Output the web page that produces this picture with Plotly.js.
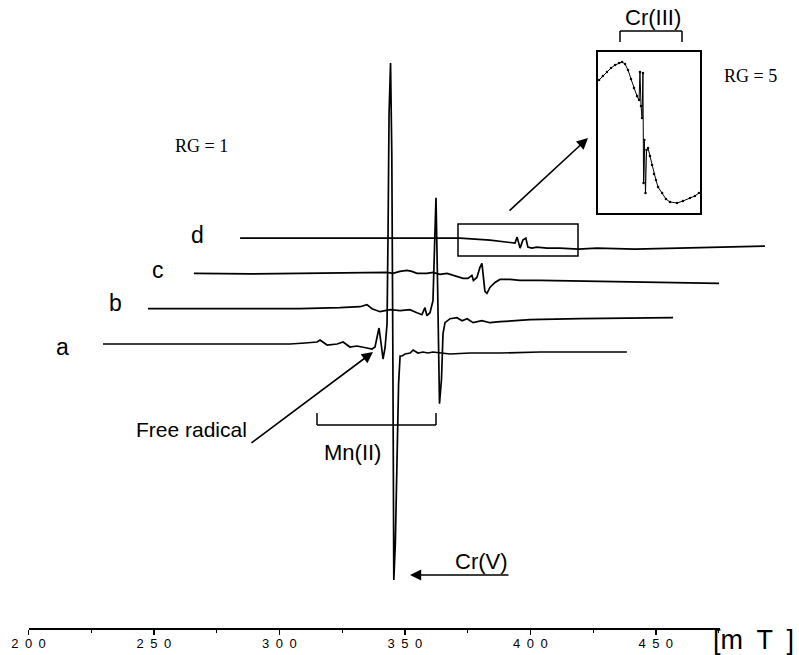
<!DOCTYPE html>
<html>
<head>
<meta charset="utf-8">
<script src="https://cdn.plot.ly/plotly-3.0.1.min.js"></script>
<style>html,body{margin:0;padding:0;background:#fff;}#chart{width:799px;height:655px;}</style>
</head>
<body>
<div id="chart"></div>
<script>
// ---- data: magnetic field (mT) and EPR signal (arbitrary units) ----
const traceNames = ['a', 'b', 'c', 'd'];

const fieldA = [229.7, 268.4, 292.3, 304.2, 310.2, 315.0, 316.2, 319.0, 323.0, 325.4, 328.1, 330.9, 334.9, 336.9, 338.1, 338.9, 339.7, 340.5, 341.3, 342.1, 342.9, 343.3, 343.7, 344.3, 344.8, 345.2, 345.6, 346.2, 346.9, 347.5, 348.1, 348.9, 350.1, 352.1, 353.3, 355.2, 357.2, 359.2, 361.2, 364.0, 368.0, 376.0, 387.9, 403.9, 419.8, 438.5];
const signalA = [0, 0, 0.5, 0, 1, 2, 4, -1, 0, 2, -3, -2, -4, -5, -3, 8, 16, 1, -15, -4, 20, 110, 230, 281, 190, 0, -236, -200, -100, -40, -12, -12, -10, -9, -6, -9, -8, -9, -8, -9, -10, -9, -9, -8, -8, -8];

const fieldB = [229.4, 270.1, 290.0, 305.9, 313.9, 316.7, 318.7, 321.9, 325.9, 329.9, 333.8, 336.6, 338.6, 339.8, 340.6, 341.8, 343.0, 343.6, 344.2, 344.8, 345.6, 346.4, 347.0, 347.8, 349.8, 352.6, 354.6, 356.6, 359.0, 362.5, 365.7, 369.7, 381.7, 401.6, 438.7];
const signalB = [0, 0, 0, 1, 2, 4, 0, -3, -1, -2, -1, -4, -6, 1, -7, -4, 8, 60, 111, 30, -95, -70, -25, -14, -10, -9, -12, -10, -14, -12, -14, -13, -11, -10, -9];

const fieldC = [229.5, 251.9, 271.8, 291.7, 306.5, 308.9, 311.6, 314.4, 316.4, 318.4, 322.4, 324.8, 327.6, 330.4, 334.4, 336.8, 338.7, 340.3, 340.9, 342.3, 343.5, 344.3, 344.9, 345.5, 346.3, 347.5, 349.5, 351.5, 355.5, 359.5, 367.4, 391.4, 438.8];
const signalC = [0, -0.5, 0, 0.5, 1, 0, 2, 3, 2, 0, 0, 1, -1, 0, -3, -5, -5, -2, -7, -4, 6, 10, -4, -18, -20, -14, -9, -6, -6, -7, -7, -8, -10];

const fieldD = [229.7, 253.6, 285.5, 309.4, 317.3, 329.3, 337.3, 339.3, 340.1, 341.3, 342.4, 343.6, 344.4, 346.0, 348.0, 352.0, 357.2, 364.4, 371.9, 387.1, 413.0, 438.9];
const signalD = [0, 0, 0.5, 0, 0, -2, -4, -5, 1, -10, -2, 0, -9, -10, -9, -10, -10, -11, -10, -11, -9.5, -8];

// inset (RG = 5): Cr(III) region of trace d
const insetField = [317.0, 318.8, 320.7, 322.6, 324.5, 326.4, 327.8, 329.2, 330.6, 332.0, 333.4, 334.8, 335.8, 336.2, 336.7, 337.2, 337.6, 337.9, 338.3, 338.8, 339.3, 340.0, 340.9, 341.9, 342.8, 343.7, 344.7, 346.6, 348.4, 350.3, 353.6, 356.4, 359.7, 362.0, 363.9];
const insetSignal = [133, 137, 141, 145, 148, 150, 151, 149, 143, 134, 125, 117, 113, 141, 107, 95, 140, 30, 73, 20, 63, 65, 57, 48, 39, 33, 26, 20, 14, 11, 10, 12, 15, 17, 20];

const tickValues = [200, 250, 300, 350, 400, 450];
const tickLabels = tickValues.map(v => String(v).split('').join('\u2002'));

// ---- layout constants (pseudo-3D stacking) ----
const W = 799, H = 655, PLOT_H = 628;
const FIELD_SHIFT = 18.21;   // mT per stacked trace
const BASE = 284, STEP = 35.3;
const fields = [fieldA, fieldB, fieldC, fieldD];
const signals = [signalA, signalB, signalC, signalD];

const X = px => px / W;
const Y = py => (PLOT_H - py) / PLOT_H;
const sans = 'Arial, "Liberation Sans", sans-serif';
const serif = '"Times New Roman", "Liberation Serif", serif';

const data = [{x: [], y: [], xaxis: 'x', yaxis: 'y', showlegend: false, hoverinfo: 'skip'}];
fields.forEach((f, k) => {
  data.push({
    x: f.map(v => v + k * FIELD_SHIFT),
    y: signals[k].map(v => v + BASE + k * STEP),
    xaxis: 'x2', yaxis: 'y2', mode: 'lines',
    line: {color: '#000', width: 1.7}, name: traceNames[k], showlegend: false
  });
});
data.push({
  x: insetField, y: insetSignal, xaxis: 'x3', yaxis: 'y3', mode: 'lines+markers',
  line: {color: '#000', width: 1}, marker: {color: '#000', size: 2.5}, showlegend: false
});

const line = (x0, y0, x1, y1, w) => ({type: 'line', xref: 'paper', yref: 'paper',
  x0: X(x0), y0: Y(y0), x1: X(x1), y1: Y(y1), line: {color: '#000', width: w || 1.5}});

const shapes = [
  {type: 'rect', xref: 'paper', yref: 'paper', x0: X(458), x1: X(578), y0: Y(256), y1: Y(224),
   line: {color: '#000', width: 1.5}},
  line(317, 413, 317, 425), line(317, 425, 436, 425), line(436, 425, 436, 413),
  line(620, 42, 620, 31), line(620, 31, 682, 31), line(682, 31, 682, 42)
];

const txt = (s, px, py, size, fam) => ({text: s, xref: 'paper', yref: 'paper', x: X(px), y: Y(py),
  showarrow: false, xanchor: 'center', yanchor: 'middle', font: {family: fam || sans, size: size, color: '#000'}});
const arrow = (hx, hy, tx, ty) => ({text: '', xref: 'paper', yref: 'paper', x: X(hx), y: Y(hy),
  ax: tx - hx, ay: ty - hy, showarrow: true, arrowhead: 2, arrowsize: 1.4, arrowwidth: 1.6,
  arrowcolor: '#000', standoff: 0, startstandoff: 0});

const annotations = [
  txt('RG = 1', 201, 146, 18, serif),
  txt('RG = 5', 750, 76, 18, serif),
  txt('Cr(III)', 653, 18, 22),
  txt('Free radical', 191, 429, 21),
  txt('Mn(II)', 352, 452, 22),
  txt('Cr(V)', 481, 561, 22),
  txt('a', 62, 347, 23), txt('b', 116, 303, 23), txt('c', 158, 270, 23), txt('d', 197, 235, 23),
  txt('[m\u2002T\u2002]', 753, 640, 27),
  arrow(373, 352, 250, 444),
  arrow(588, 138, 508, 212),
  arrow(410, 575, 510, 575)
];

const layout = {
  width: W, height: H, margin: {l: 0, r: 0, t: 0, b: H - PLOT_H, pad: 0},
  paper_bgcolor: '#fff', plot_bgcolor: 'rgba(0,0,0,0)', showlegend: false,
  xaxis: {domain: [28.5 / W, 719.5 / W], range: [200, 200 + 691 / 2.509], anchor: 'y',
    showline: true, linewidth: 2, linecolor: '#000', ticks: 'outside', ticklen: 5, tickwidth: 1.5,
    tickcolor: '#000', tickvals: tickValues, ticktext: tickLabels, showgrid: false, zeroline: false,
    tickfont: {family: sans, size: 13, color: '#000'}, ticklabelstandoff: -3,
    minor: {dtick: 25, tick0: 200, ticks: 'outside', ticklen: 3, tickwidth: 1, tickcolor: '#000', showgrid: false}},
  yaxis: {domain: [0, 1], range: [0, 1], visible: false, anchor: 'x'},
  xaxis2: {domain: [0, 1], range: [188.64, 188.64 + W / 2.509], visible: false, anchor: 'y2'},
  yaxis2: {domain: [0, 1], range: [0, PLOT_H], visible: false, anchor: 'x2'},
  xaxis3: {domain: [598 / W, 700 / W], range: [316.5, 364.4], anchor: 'y3', showline: true, mirror: true,
    linewidth: 2, linecolor: '#000', ticks: '', showticklabels: false, showgrid: false, zeroline: false},
  yaxis3: {domain: [Y(213), Y(52)], range: [0, 161], anchor: 'x3', showline: true, mirror: true,
    linewidth: 2, linecolor: '#000', ticks: '', showticklabels: false, showgrid: false, zeroline: false},
  shapes: shapes, annotations: annotations
};

Plotly.newPlot('chart', data, layout, {staticPlot: true, displayModeBar: false});
</script>
</body>
</html>
